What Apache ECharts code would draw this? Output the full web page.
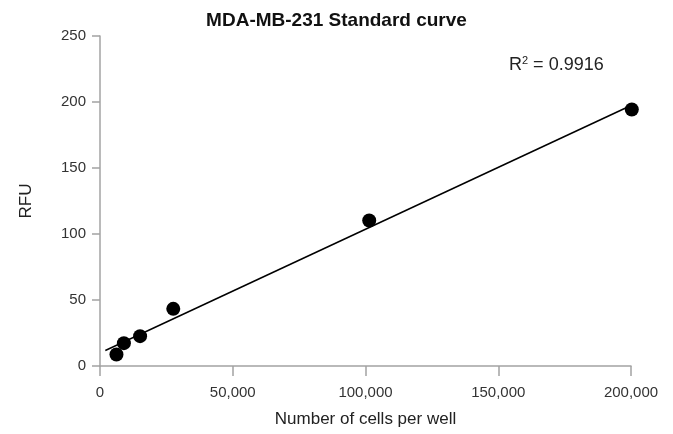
<!DOCTYPE html>
<html>
<head>
<meta charset="utf-8">
<script src="https://cdn.jsdelivr.net/npm/echarts@6/dist/echarts.min.js"></script>
<style>
  html, body { margin: 0; padding: 0; background: #fff; }
</style>
</head>
<body>
<div id="chart" style="width: 673px;height:434px;"></div>
<script>
  // cells per well vs RFU
  var cellsPerWell = [6200, 9000, 15100, 27600, 101400, 200300];
  var rfu = [8.7, 17.3, 22.6, 43.3, 110.2, 194.3];
  var trendRange = [2000, 200000];
  var rSquared = '0.9916';

  // least squares fit for the trend line
  function fitLine(xs, ys) {
    var n = xs.length, mx = 0, my = 0;
    for (var i = 0; i < n; i++) { mx += xs[i]; my += ys[i]; }
    mx /= n; my /= n;
    var sxy = 0, sxx = 0;
    for (var j = 0; j < n; j++) {
      sxy += (xs[j] - mx) * (ys[j] - my);
      sxx += (xs[j] - mx) * (xs[j] - mx);
    }
    var slope = sxy / sxx;
    return {slope: slope, intercept: my - slope * mx};
  }

  var fit = fitLine(cellsPerWell, rfu);
  var points = cellsPerWell.map(function (x, i) { return [x, rfu[i]]; });
  var trend = trendRange.map(function (x) { return [x, fit.intercept + fit.slope * x]; });

  var font = 'Liberation Sans';
  var axisGray = '#a3a3a3';

  var option = {
    animation: false,
    textStyle: {fontFamily: font},
    title: [
      {
        text: 'MDA-MB-231 Standard curve',
        left: 'center',
        top: 6,
        textStyle: {fontFamily: font, fontSize: 19, fontWeight: 'bold', color: '#111'}
      },
      {
        text: '{r|R}{s|2}{r| = ' + rSquared + '}',
        left: 504,
        top: 50,
        textStyle: {
          fontWeight: 'normal',
          rich: {
            r: {fontFamily: font, fontSize: 18, fontWeight: 'normal', color: '#222', verticalAlign: 'bottom'},
            s: {fontFamily: font, fontSize: 11, fontWeight: 'normal', color: '#222', verticalAlign: 'top', padding: [0, 0, 8, 0]}
          }
        }
      }
    ],
    grid: {left: 100, right: 42, top: 36, bottom: 68, containLabel: false, outerBoundsMode: 'none'},
    xAxis: {
      type: 'value',
      min: 0,
      max: 200000,
      interval: 50000,
      name: 'Number of cells per well',
      nameLocation: 'middle',
      nameGap: 45,
      nameTextStyle: {fontFamily: font, fontSize: 17, color: '#222'},
      axisLine: {lineStyle: {color: axisGray, width: 1.5}},
      axisTick: {show: true, length: 10, lineStyle: {color: axisGray, width: 1.5}},
      axisLabel: {
        fontFamily: font, fontSize: 15, color: '#333', margin: 19,
        formatter: function (v) { return v.toLocaleString('en-US'); }
      },
      splitLine: {show: false}
    },
    yAxis: {
      type: 'value',
      min: 0,
      max: 250,
      interval: 50,
      name: 'RFU',
      nameLocation: 'middle',
      nameGap: 65,
      nameTextStyle: {fontFamily: font, fontSize: 17, color: '#222'},
      axisLine: {show: true, lineStyle: {color: axisGray, width: 1.5}},
      axisTick: {show: true, length: 8, lineStyle: {color: axisGray, width: 1.5}},
      axisLabel: {fontFamily: font, fontSize: 15, color: '#333', margin: 14},
      splitLine: {show: false}
    },
    series: [
      {
        name: 'trend',
        type: 'line',
        data: trend,
        symbol: 'none',
        lineStyle: {color: '#000', width: 1.5},
        z: 2
      },
      {
        name: 'RFU',
        type: 'scatter',
        data: points,
        symbolSize: 14,
        clip: false,
        itemStyle: {color: '#000', opacity: 1},
        z: 3
      }
    ]
  };

  echarts.init(document.getElementById('chart')).setOption(option);
</script>
</body>
</html>
